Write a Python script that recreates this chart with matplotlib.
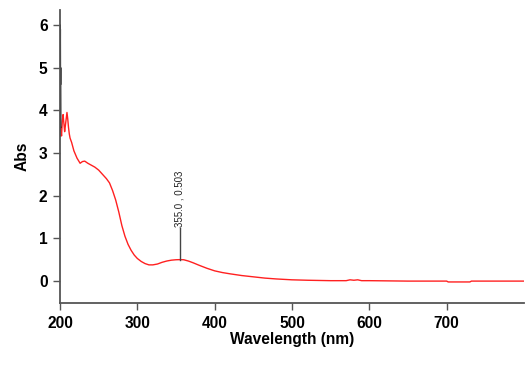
import matplotlib
matplotlib.use("Agg")
import matplotlib.pyplot as plt

plt.rcParams['font.family'] = ['Liberation Sans', 'DejaVu Sans']

# black noisy spike at the start (detector saturation)
spike_wl = [200.0, 200.15, 200.3, 200.45, 200.6, 200.75, 200.9, 201.0]
spike_abs = [3.4, 6.0, 5.2, 5.9, 4.6, 5.0, 4.1, 3.6]

# red absorbance spectrum
wl = [201, 202, 203, 204, 205, 206, 207, 208, 209, 210, 211, 212, 213, 215,
      218, 222, 226, 229, 232, 236, 240, 245, 250, 255, 260, 264, 268,
      272, 276, 280, 284, 288, 292, 296, 300, 305, 310, 315, 320, 326, 332,
      338, 344, 350, 355, 360, 366, 372, 380, 390, 400, 410, 420, 435, 450,
      465, 480, 500, 520, 550, 570, 575, 580, 585, 590, 600, 650, 700, 702,
      730, 732, 760, 800]
absorb = [3.6, 3.4, 3.75, 3.9, 3.7, 3.5, 3.65, 3.8, 3.95, 3.8, 3.6, 3.45,
          3.35, 3.25, 3.05, 2.88, 2.76, 2.8, 2.81, 2.76, 2.72, 2.67, 2.6,
          2.5, 2.4, 2.3, 2.12, 1.9, 1.62, 1.3, 1.05, 0.86, 0.72, 0.61, 0.53,
          0.46, 0.41, 0.38, 0.38, 0.4, 0.44, 0.47, 0.49, 0.5, 0.503, 0.5, 0.47,
          0.43, 0.37, 0.3, 0.24, 0.2, 0.17, 0.13, 0.1, 0.07, 0.05, 0.03, 0.02,
          0.01, 0.01, 0.03, 0.02, 0.03, 0.01, 0.01, 0.0, 0.0, -0.02, -0.02,
          0.0, 0.0, 0.0]

peak_wl = 355.0
peak_abs = 0.503
peak_label = "355.0 , 0.503"

fig = plt.figure(figsize=(5.30, 3.69), dpi=100)
ax = fig.add_axes([60/530, 1 - 303.3/369, (524-60)/530, (303.3-10)/369])

ax.plot(wl, absorb, color='#ff2020', lw=1.0)
ax.plot(spike_wl, spike_abs, color='black', lw=1.0)

ax.plot([peak_wl, peak_wl], [peak_abs, 1.24], color='#444444', lw=1.0)
ax.text(peak_wl, 1.27, peak_label, rotation=90, ha='center', va='bottom',
        fontsize=7, color='#222222')

ax.set_xlim(200, 800)
ax.set_ylim(-0.52, 6.35)
ax.set_xticks([200, 300, 400, 500, 600, 700])
ax.set_yticks([0, 1, 2, 3, 4, 5, 6])

for s in ['top', 'right']:
    ax.spines[s].set_visible(False)
for s in ['left', 'bottom']:
    ax.spines[s].set_color('#555555')
    ax.spines[s].set_linewidth(1.3)

ax.tick_params(direction='out', length=5, width=1, color='#555555',
               labelsize=11.2, pad=4)
for lab in ax.get_xticklabels() + ax.get_yticklabels():
    lab.set_fontweight('bold')

ax.set_xlabel('Wavelength (nm)', fontsize=11.2, fontweight='bold', labelpad=1)
ax.set_ylabel('Abs', fontsize=11.2, fontweight='bold', labelpad=7)

fig.savefig('out.png', dpi=100)
